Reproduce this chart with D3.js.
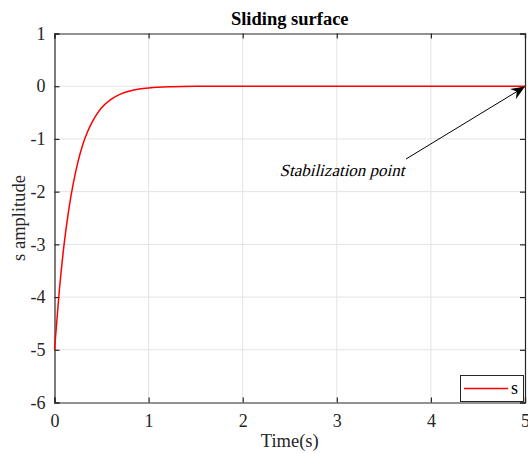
<!DOCTYPE html>
<html><head><meta charset="utf-8">
<script src="https://cdn.jsdelivr.net/npm/d3@7"></script>
<style>body{margin:0;background:#fff}svg{display:block}</style>
</head><body>
<script>
const timeValues = [0, 0.05, 0.1, 0.15, 0.2, 0.25, 0.3, 0.35, 0.4, 0.45, 0.5, 0.6, 0.7, 0.8, 0.9, 1.0, 1.1, 1.25, 1.5, 2, 3, 4, 5];
const sValues    = [-5, -3.9, -3.03, -2.36, -1.84, -1.43, -1.11, -0.87, -0.68, -0.53, -0.41, -0.25, -0.15, -0.09, -0.055, -0.034, -0.02, -0.01, -0.003, 0, 0, 0, 0];
const xTicks = [0, 1, 2, 3, 4, 5];
const yTicks = [1, 0, -1, -2, -3, -4, -5, -6];
const titleText = "Sliding surface";
const xLabel = "Time(s)";
const yLabel = "s amplitude";
const annotationText = "Stabilization point";
const legendLabel = "s";

const W = 528, H = 453;
const m = {left: 54.5, top: 33.5, right: 525, bottom: 402.5};
const svg = d3.select("body").append("svg").attr("width", W).attr("height", H);
const font = "'Liberation Serif','Times New Roman',Times,serif";

const x = d3.scaleLinear().domain([0, 5]).range([m.left, m.right]);
const y = d3.scaleLinear().domain([-6, 1]).range([m.bottom, m.top]);

// grid
svg.append("g").selectAll("line").data(xTicks.slice(1, -1)).join("line")
  .attr("x1", d => x(d)).attr("x2", d => x(d)).attr("y1", m.top).attr("y2", m.bottom)
  .attr("stroke", "#e3e3e3").attr("stroke-width", 1);
svg.append("g").selectAll("line").data(yTicks.slice(1, -1)).join("line")
  .attr("y1", d => y(d)).attr("y2", d => y(d)).attr("x1", m.left).attr("x2", m.right)
  .attr("stroke", "#e3e3e3").attr("stroke-width", 1);

// axes
const xAxis = d3.axisBottom(x).tickValues(xTicks).tickSize(-5).tickPadding(12).tickFormat(d3.format("d"));
const yAxis = d3.axisLeft(y).tickValues(yTicks).tickSize(-5).tickPadding(9).tickFormat(d => d < 0 ? "-" + Math.abs(d) : d);
const gx = svg.append("g").attr("transform", `translate(0,${m.bottom})`).call(xAxis);
const gy = svg.append("g").attr("transform", `translate(${m.left},0)`).call(yAxis);
const gxt = svg.append("g").attr("transform", `translate(0,${m.top})`).call(d3.axisTop(x).tickValues(xTicks).tickSize(-5).tickFormat(""));
const gyr = svg.append("g").attr("transform", `translate(${m.right},0)`).call(d3.axisRight(y).tickValues(yTicks).tickSize(-5).tickFormat(""));
[gx, gy, gxt, gyr].forEach(g => {
  g.attr("font-family", null).attr("font-size", null);
  g.selectAll("path,line").attr("stroke", "#262626").attr("stroke-width", 1.2);
  g.selectAll("text").attr("fill", "#262626").style("font-family", font).style("font-size", "18px");
});

// curve
const data = timeValues.map((t, i) => ({t, s: sValues[i]}));
svg.append("path").datum(data)
  .attr("fill", "none").attr("stroke", "#ff0000").attr("stroke-width", 1.5)
  .attr("d", d3.line().x(d => x(d.t)).y(d => y(d.s)).curve(d3.curveMonotoneX));

// title and labels
svg.append("text").attr("x", (m.left + m.right) / 2).attr("y", 25).attr("text-anchor", "middle")
  .style("font-family", font).style("font-size", "18.5px").style("font-weight", "bold").attr("fill", "#000").text(titleText);
svg.append("text").attr("x", (m.left + m.right) / 2).attr("y", 447).attr("text-anchor", "middle")
  .style("font-family", font).style("font-size", "18.5px").attr("fill", "#262626").text(xLabel);
svg.append("text").attr("transform", `translate(25,${(m.top + m.bottom) / 2}) rotate(-90)`).attr("text-anchor", "middle")
  .style("font-family", font).style("font-size", "18.5px").attr("fill", "#262626").text(yLabel);

// annotation
const defs = svg.append("defs");
defs.append("marker").attr("id", "arr").attr("viewBox", "0 0 12 10").attr("refX", 11).attr("refY", 5)
  .attr("markerWidth", 15).attr("markerHeight", 12).attr("markerUnits", "userSpaceOnUse").attr("orient", "auto")
  .append("path").attr("d", "M0,0 L12,5 L0,10 L4,5 Z").attr("fill", "#000");
svg.append("line").attr("x1", 406).attr("y1", 159).attr("x2", x(5) - 1).attr("y2", y(0) + 1)
  .attr("stroke", "#000").attr("stroke-width", 1).attr("marker-end", "url(#arr)");
svg.append("text").attr("transform", "translate(342,176) skewX(-14)").attr("text-anchor", "middle")
  .style("font-family", font).style("font-size", "17px").attr("fill", "#000").text(annotationText);

// legend
const lg = svg.append("g");
lg.append("rect").attr("x", 460.5).attr("y", 375.5).attr("width", 63).attr("height", 26)
  .attr("fill", "#fff").attr("stroke", "#262626").attr("stroke-width", 1);
lg.append("line").attr("x1", 464).attr("x2", 508).attr("y1", 388.5).attr("y2", 388.5)
  .attr("stroke", "#ff0000").attr("stroke-width", 1.5);
lg.append("text").attr("x", 511).attr("y", 394).style("font-family", font).style("font-size", "18px")
  .attr("fill", "#000").text(legendLabel);
</script>
</body></html>
